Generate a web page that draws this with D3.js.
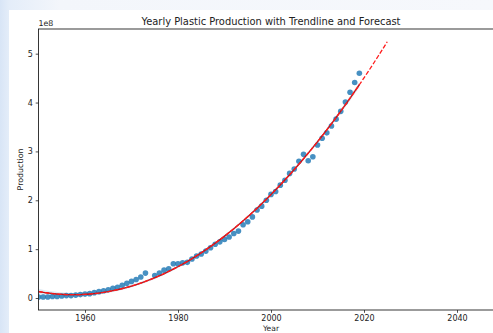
<!DOCTYPE html>
<html>
<head>
<meta charset="utf-8">
<script src="https://cdn.jsdelivr.net/npm/d3@7"></script>
<style>
  html, body { margin: 0; padding: 0; }
  body { width: 493px; height: 333px; overflow: hidden;
         background: linear-gradient(to right, #d8e5f6 0px, #e4edf9 9px, #f3f6fb 60px, #f6f8fc 100%); }
  svg { display: block; }
  text { font-family: "DejaVu Sans", sans-serif; fill: #222; }
</style>
</head>
<body>
<svg id="chart" width="493" height="333"></svg>
<script>
// ---- data (global plastic production, tonnes) ----
const years = [1950,1951,1952,1953,1954,1955,1956,1957,1958,1959,
               1960,1961,1962,1963,1964,1965,1966,1967,1968,1969,
               1970,1971,1972,1973,1975,1976,1977,1978,1979,
               1980,1981,1982,1983,1984,1985,1986,1987,1988,1989,
               1990,1991,1992,1993,1994,1995,1996,1997,1998,1999,
               2000,2001,2002,2003,2004,2005,2006,2007,2008,2009,
               2010,2011,2012,2013,2014,2015,2016,2017,2018,2019];
const production = [2e6,2e6,2e6,3e6,3e6,4e6,5e6,5e6,6e6,7e6,
                    8e6,9e6,11e6,13e6,15e6,17e6,20e6,22e6,26e6,30e6,
                    34e6,38e6,43e6,51e6,46e6,51e6,57e6,60e6,70e6,
                    70e6,72e6,73e6,80e6,86e6,90e6,96e6,103e6,110e6,115e6,
                    120e6,125e6,132e6,137e6,150e6,156e6,166e6,180e6,188e6,200e6,
                    212e6,218e6,231e6,241e6,255e6,264e6,280e6,294e6,281e6,289e6,
                    313e6,327e6,338e6,352e6,366e6,382e6,401e6,421e6,441e6,460e6];
const forecastEnd = 2025;
const xTicks = [1960, 1980, 2000, 2020, 2040];
const yTicks = [0, 1e8, 2e8, 3e8, 4e8, 5e8];
const yTickLabels = ["0", "1", "2", "3", "4", "5"];
const titleText = "Yearly Plastic Production with Trendline and Forecast";

// ---- quadratic least-squares fit (as the original trendline) ----
const t0 = 1950;
function solve3(A, b) {
  const M = A.map((r, i) => r.concat([b[i]]));
  for (let i = 0; i < 3; i++) {
    let p = i;
    for (let k = i + 1; k < 3; k++) if (Math.abs(M[k][i]) > Math.abs(M[p][i])) p = k;
    [M[i], M[p]] = [M[p], M[i]];
    for (let k = 0; k < 3; k++) {
      if (k === i) continue;
      const f = M[k][i] / M[i][i];
      for (let j = i; j < 4; j++) M[k][j] -= f * M[i][j];
    }
  }
  return M.map((r, i) => r[3] / r[i]);
}
const XtX = [[0,0,0],[0,0,0],[0,0,0]], Xty = [0,0,0];
years.forEach((yr, i) => {
  const t = yr - t0, g = [1, t, t * t];
  for (let a = 0; a < 3; a++) {
    Xty[a] += g[a] * production[i];
    for (let b = 0; b < 3; b++) XtX[a][b] += g[a] * g[b];
  }
});
const coef = solve3(XtX, Xty);
const fit = yr => { const t = yr - t0; return coef[0] + coef[1] * t + coef[2] * t * t; };
const inv = [0,1,2].map(j => solve3(XtX, [0,1,2].map(i => i === j ? 1 : 0)));
let sse = 0;
years.forEach((yr, i) => { sse += (production[i] - fit(yr)) ** 2; });
const s2 = sse / (years.length - 3);
const se = yr => {
  const t = yr - t0, g = [1, t, t * t];
  let v = 0;
  for (let a = 0; a < 3; a++) for (let b = 0; b < 3; b++) v += g[a] * inv[b][a] * g[b];
  return Math.sqrt(s2 * v);
};

// ---- layout ----
const svg = d3.select("#chart");
const L = 38.5, R = 503.5, T = 29, B = 310;

svg.append("rect").attr("x", 9).attr("y", 10).attr("width", 484).attr("height", 323).attr("fill", "#ffffff");

const x = d3.scaleLinear().domain([1950, 2050]).range([L, R]);
const y = d3.scaleLinear().domain([-0.245e8, 5.505e8]).range([B, T]);

svg.append("defs").append("clipPath").attr("id", "clip")
  .append("rect").attr("x", L).attr("y", T).attr("width", R - L).attr("height", B - T);

const plot = svg.append("g").attr("clip-path", "url(#clip)");

// CI band
const grid = d3.range(0, 100).map(i => years[0] + (years[years.length - 1] - years[0]) * i / 99);
plot.append("path")
  .datum(grid)
  .attr("d", d3.area().x(d => x(d)).y0(d => y(fit(d) - 1.96 * se(d))).y1(d => y(fit(d) + 1.96 * se(d))))
  .attr("fill", "#1f77b4").attr("fill-opacity", 0.15).attr("stroke", "none");

// scatter
plot.selectAll("circle.pt").data(years).enter().append("circle")
  .attr("class", "pt")
  .attr("cx", d => x(d))
  .attr("cy", (d, i) => y(production[i]))
  .attr("r", 2.8)
  .attr("fill", "#1f77b4").attr("fill-opacity", 0.82);

// trendline (solid)
plot.append("path")
  .datum(grid)
  .attr("d", d3.line().x(d => x(d)).y(d => y(fit(d))))
  .attr("fill", "none").attr("stroke", "#b8141c").attr("stroke-width", 1.35);

// forecast (dashed)
const fyears = d3.range(years[0], forecastEnd + 1);
plot.append("path")
  .datum(fyears)
  .attr("d", d3.line().x(d => x(d)).y(d => y(fit(d))))
  .attr("fill", "none").attr("stroke", "#ff1a1a").attr("stroke-width", 1.3)
  .attr("stroke-dasharray", "4.4,1.9");

// spines
svg.append("rect").attr("x", L).attr("y", T).attr("width", R - L).attr("height", B - T)
  .attr("fill", "none").attr("stroke", "#222").attr("stroke-width", 0.9);

// axes
const xAxis = d3.axisBottom(x).tickValues(xTicks).tickFormat(d3.format("d"))
  .tickSize(2.8).tickPadding(2.8);
const gx = svg.append("g").attr("transform", `translate(0,${B})`).call(xAxis);
gx.select(".domain").remove();
gx.selectAll("line").attr("stroke", "#222").attr("stroke-width", 0.8);
gx.selectAll("text").attr("font-size", 8).attr("font-family", "DejaVu Sans").attr("fill", "#222");

const yAxis = d3.axisLeft(y).tickValues(yTicks).tickFormat((d, i) => yTickLabels[i])
  .tickSize(2.8).tickPadding(2.8);
const gy = svg.append("g").attr("transform", `translate(${L},0)`).call(yAxis);
gy.select(".domain").remove();
gy.selectAll("line").attr("stroke", "#222").attr("stroke-width", 0.8);
gy.selectAll("text").attr("font-size", 8).attr("font-family", "DejaVu Sans").attr("fill", "#222");

// texts
svg.append("text").attr("x", (L + R) / 2).attr("y", 24.5).attr("text-anchor", "middle")
  .attr("font-size", 9.9).text(titleText);
svg.append("text").attr("x", L).attr("y", 25.5).attr("font-size", 7.9).text("1e8");
svg.append("text").attr("transform", `translate(23,${(T + B) / 2}) rotate(-90)`)
  .attr("text-anchor", "middle").attr("font-size", 7.9).text("Production");
svg.append("text").attr("x", (L + R) / 2).attr("y", 330.8).attr("text-anchor", "middle")
  .attr("font-size", 7.6).text("Year");
</script>
</body>
</html>
